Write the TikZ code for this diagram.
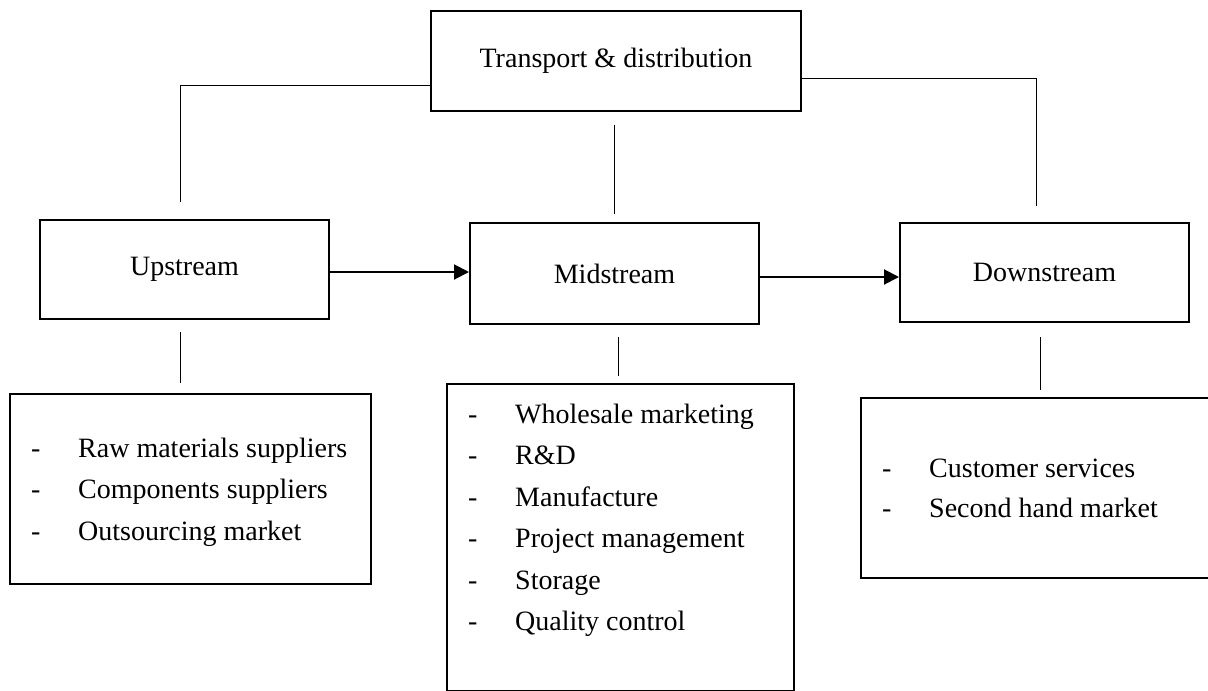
\documentclass[tikz,border=0pt]{standalone}
\usepackage{fontspec}
\setmainfont{Liberation Serif}
\usetikzlibrary{arrows.meta}
\begin{document}
\begin{tikzpicture}[x=1pt,y=-1pt,
  box/.style={draw, line width=2pt, inner sep=0pt, anchor=north west, font=\fontsize{28}{33}\selectfont},
  conn/.style={line width=1pt},
  flow/.style={line width=2pt, -{Triangle[length=15pt,width=15pt]}},
  lst/.style={anchor=base west, inner sep=0pt, font=\fontsize{28}{41.5}\selectfont}]
\path[use as bounding box, clip] (0,0) rectangle (1208,691);
% main boxes
\node[box, minimum width=370pt, minimum height=100pt] (T) at (430,10) {Transport \& distribution};
\node[box, minimum width=289pt, minimum height=99pt] (U) at (39,219) {Upstream};
\node[box, minimum width=289pt, minimum height=101pt] (M) at (469,222) {Midstream};
\node[box, minimum width=289pt, minimum height=99pt] (D) at (899,222) {Downstream};
% list boxes
\node[box, minimum width=361pt, minimum height=190pt] (BL) at (9,393) {};
\node[box, minimum width=347pt, minimum height=307pt] (BM) at (446,383) {};
\node[box, minimum width=400pt, minimum height=180pt] (BR) at (860,397) {};
% list texts
\node[lst] (LL) at (31,457) {\begin{tabular}[t]{@{}p{47pt}@{}l@{}}
-&Raw materials suppliers\\
-&Components suppliers\\
-&Outsourcing market
\end{tabular}};
\node[lst] (LM) at (468,423) {\begin{tabular}[t]{@{}p{47pt}@{}l@{}}
-&Wholesale marketing\\
-&R\&D\\
-&Manufacture\\
-&Project management\\
-&Storage\\
-&Quality control
\end{tabular}};
\node[lst, font=\fontsize{28}{40.5}\selectfont] (LR) at (882,477) {\begin{tabular}[t]{@{}p{47pt}@{}l@{}}
-&Customer services\\
-&Second hand market
\end{tabular}};
% flow arrows
\draw[flow] (U.east |- 0,272) -- (M.west |- 0,272);
\draw[flow] (M.east |- 0,277) -- (D.west |- 0,277);
% connectors from transport box
\coordinate (tl) at (180,85);
\coordinate (tlb) at (180,202);
\draw[conn] (T.west |- tl) -- (tl) -- (tlb);
\coordinate (tr) at (1036,78);
\coordinate (trb) at (1036,206);
\draw[conn] (T.east |- tr) -- (tr) -- (trb);
\coordinate (tma) at (614,125);
\coordinate (tmb) at (614,214);
\draw[conn] (tma) -- (tmb);
% connectors to lists
\coordinate (ula) at (180,332);
\coordinate (ulb) at (180,383);
\draw[conn] (ula) -- (ulb);
\coordinate (mla) at (618,337);
\coordinate (mlb) at (618,376);
\draw[conn] (mla) -- (mlb);
\coordinate (dla) at (1040,337);
\coordinate (dlb) at (1040,390);
\draw[conn] (dla) -- (dlb);
\end{tikzpicture}
\end{document}
